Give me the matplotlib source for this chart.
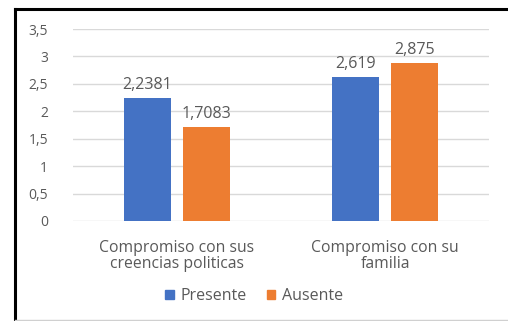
import matplotlib

matplotlib.use("Agg")
import matplotlib.pyplot as plt
from matplotlib.lines import Line2D
from matplotlib.patches import Patch
import numpy as np

# datos
CATEGORIAS = ["Compromiso con sus\ncreencias politicas", "Compromiso con su\nfamilia"]
PRESENTE = [2.2381, 2.619]
AUSENTE = [1.7083, 2.875]
ETIQ_PRESENTE = ["2,2381", "2,619"]
ETIQ_AUSENTE = ["1,7083", "2,875"]
TICKS_Y = [0, 0.5, 1, 1.5, 2, 2.5, 3, 3.5]
ETIQ_Y = ["0", "0,5", "1", "1,5", "2", "2,5", "3", "3,5"]

AZUL = "#4472C4"
NARANJA = "#ED7D31"
GRIS = "#595959"

plt.rcParams["font.family"] = ["Open Sans", "DejaVu Sans"]

fig = plt.figure(figsize=(5.08, 3.21), dpi=100)
ax = fig.add_axes([73 / 508, 100 / 321, 416 / 508, 192 / 321])

x = np.arange(len(CATEGORIAS))
ancho = 0.222
sep = 0.031
b1 = ax.bar(x - ancho / 2 - sep, PRESENTE, ancho, color=AZUL, zorder=3)
b2 = ax.bar(x + ancho / 2 + sep, AUSENTE, ancho, color=NARANJA, zorder=3)

for barras, etiquetas in ((b1, ETIQ_PRESENTE), (b2, ETIQ_AUSENTE)):
    for b, t in zip(barras, etiquetas):
        ax.annotate(t, (b.get_x() + b.get_width() / 2, b.get_height()),
                    xytext=(0, 4), textcoords="offset points",
                    ha="center", va="bottom", fontsize=11.5, color=GRIS)

ax.set_xlim(-0.5, 1.5)
ax.set_ylim(0, 3.5)
ax.set_yticks(TICKS_Y)
ax.set_yticklabels(ETIQ_Y, fontsize=10, color=GRIS)
ax.set_xticks(x)
ax.set_xticklabels(CATEGORIAS, fontsize=11.3, color=GRIS, linespacing=1.0)
ax.tick_params(length=0, pad=18)
ax.tick_params(axis="x", pad=14)
ax.yaxis.grid(True, color="#D9D9D9", linewidth=1, zorder=0)
for s in ax.spines.values():
    s.set_visible(False)

ax.legend(handles=[Patch(color=AZUL, label="Presente"), Patch(color=NARANJA, label="Ausente")],
          loc="center", bbox_to_anchor=(0.5, (321 - 296) / 321), bbox_transform=fig.transFigure,
          ncol=2, frameon=False, fontsize=11.5, handlelength=0.55, handleheight=0.55,
          handletextpad=0.4, columnspacing=1.25, labelcolor=GRIS)

# marco
fig.add_artist(Line2D([15 / 508, 15 / 508], [0, 1 - 9 / 321], color="black", linewidth=2.2))
fig.add_artist(Line2D([15 / 508, 1], [1 - 9 / 321, 1 - 9 / 321], color="black", linewidth=2.2))
fig.add_artist(Line2D([15 / 508, 1], [1.5 / 321, 1.5 / 321], color="#D0D0D0", linewidth=1))

fig.savefig("out.png", dpi=100)
